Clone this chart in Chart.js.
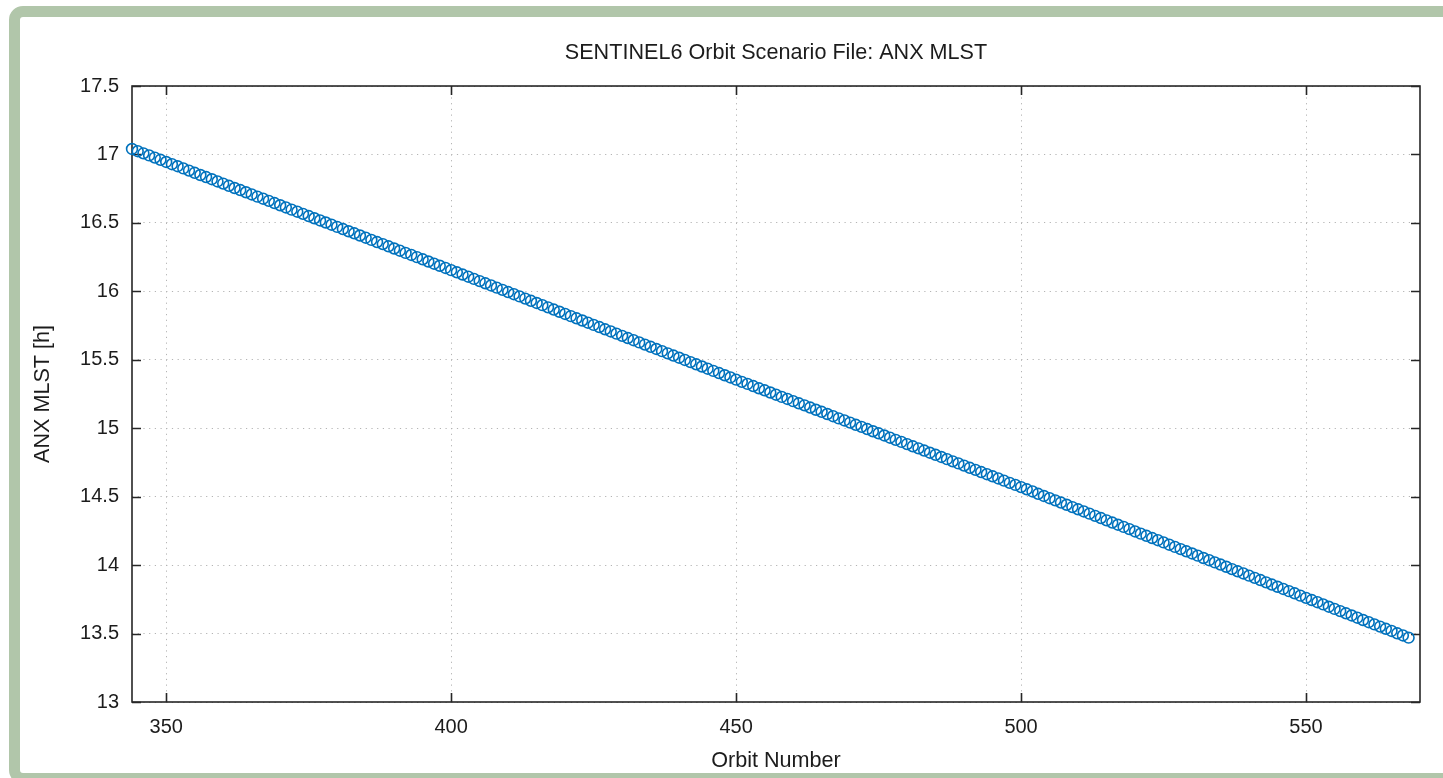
<!DOCTYPE html>
<html>
<head>
<meta charset="utf-8">
<title>SENTINEL6 Orbit Scenario File: ANX MLST</title>
<script src="https://cdn.jsdelivr.net/npm/chart.js@4.4.1/dist/chart.umd.min.js"></script>
<style>
  html, body { margin: 0; padding: 0; background: #fff; overflow: hidden; }
  #frame {
    position: absolute; left: 9px; top: 6px;
    width: 1500px; height: 756px;
    border: 11px solid #b1c6aa; border-radius: 14px;
    background: #fff;
  }
  #chart { position: absolute; left: 0; top: 0; }
</style>
</head>
<body>
<div id="frame"></div>
<canvas id="chart" width="1443" height="778"></canvas>
<script>
// ===== DATA =====
const orbits = [
  344, 345, 346, 347, 348, 349, 350, 351, 352, 353, 354, 355, 356, 357, 358, 359,
  360, 361, 362, 363, 364, 365, 366, 367, 368, 369, 370, 371, 372, 373, 374, 375,
  376, 377, 378, 379, 380, 381, 382, 383, 384, 385, 386, 387, 388, 389, 390, 391,
  392, 393, 394, 395, 396, 397, 398, 399, 400, 401, 402, 403, 404, 405, 406, 407,
  408, 409, 410, 411, 412, 413, 414, 415, 416, 417, 418, 419, 420, 421, 422, 423,
  424, 425, 426, 427, 428, 429, 430, 431, 432, 433, 434, 435, 436, 437, 438, 439,
  440, 441, 442, 443, 444, 445, 446, 447, 448, 449, 450, 451, 452, 453, 454, 455,
  456, 457, 458, 459, 460, 461, 462, 463, 464, 465, 466, 467, 468, 469, 470, 471,
  472, 473, 474, 475, 476, 477, 478, 479, 480, 481, 482, 483, 484, 485, 486, 487,
  488, 489, 490, 491, 492, 493, 494, 495, 496, 497, 498, 499, 500, 501, 502, 503,
  504, 505, 506, 507, 508, 509, 510, 511, 512, 513, 514, 515, 516, 517, 518, 519,
  520, 521, 522, 523, 524, 525, 526, 527, 528, 529, 530, 531, 532, 533, 534, 535,
  536, 537, 538, 539, 540, 541, 542, 543, 544, 545, 546, 547, 548, 549, 550, 551,
  552, 553, 554, 555, 556, 557, 558, 559, 560, 561, 562, 563, 564, 565, 566, 567,
  568
];

const anxMlst = [
  17.040, 17.024, 17.008, 16.993, 16.977, 16.961, 16.945, 16.929, 16.914, 16.898,
  16.882, 16.866, 16.850, 16.835, 16.819, 16.803, 16.787, 16.771, 16.755, 16.740,
  16.724, 16.708, 16.692, 16.677, 16.661, 16.645, 16.629, 16.613, 16.597, 16.582,
  16.566, 16.550, 16.534, 16.518, 16.503, 16.487, 16.471, 16.455, 16.439, 16.424,
  16.408, 16.392, 16.376, 16.360, 16.345, 16.329, 16.313, 16.297, 16.281, 16.266,
  16.250, 16.234, 16.218, 16.202, 16.187, 16.171, 16.155, 16.139, 16.123, 16.107,
  16.091, 16.075, 16.059, 16.043, 16.027, 16.011, 15.995, 15.979, 15.963, 15.947,
  15.931, 15.915, 15.899, 15.883, 15.867, 15.851, 15.835, 15.819, 15.803, 15.787,
  15.771, 15.755, 15.739, 15.723, 15.707, 15.691, 15.675, 15.659, 15.643, 15.627,
  15.611, 15.595, 15.579, 15.563, 15.547, 15.531, 15.515, 15.499, 15.483, 15.467,
  15.451, 15.435, 15.419, 15.403, 15.387, 15.371, 15.355, 15.339, 15.324, 15.308,
  15.292, 15.277, 15.261, 15.245, 15.229, 15.214, 15.198, 15.182, 15.167, 15.151,
  15.135, 15.120, 15.104, 15.088, 15.072, 15.057, 15.041, 15.025, 15.010, 14.994,
  14.978, 14.963, 14.947, 14.931, 14.915, 14.900, 14.884, 14.868, 14.853, 14.837,
  14.821, 14.806, 14.790, 14.774, 14.758, 14.743, 14.727, 14.711, 14.696, 14.680,
  14.664, 14.649, 14.633, 14.617, 14.601, 14.586, 14.570, 14.554, 14.538, 14.521,
  14.505, 14.489, 14.473, 14.457, 14.441, 14.424, 14.408, 14.392, 14.376, 14.360,
  14.344, 14.327, 14.311, 14.295, 14.279, 14.263, 14.246, 14.230, 14.214, 14.198,
  14.182, 14.166, 14.149, 14.133, 14.117, 14.101, 14.085, 14.069, 14.052, 14.036,
  14.020, 14.004, 13.988, 13.971, 13.955, 13.939, 13.923, 13.907, 13.891, 13.874,
  13.858, 13.842, 13.826, 13.810, 13.794, 13.777, 13.761, 13.745, 13.729, 13.713,
  13.696, 13.680, 13.664, 13.648, 13.632, 13.616, 13.599, 13.583, 13.567, 13.551,
  13.535, 13.519, 13.502, 13.486, 13.470
];

const xTickValues = [350, 400, 450, 500, 550];
const yTickValues = [13, 13.5, 14, 14.5, 15, 15.5, 16, 16.5, 17, 17.5];

const TEXT = "#1c1c1c";
const FONT = "'Liberation Sans', Arial, Helvetica, sans-serif";

// ===== AXES BOX + INWARD TICKS (matlab style) =====
const axesBox = {
  id: "axesBox",
  beforeDatasetsDraw(chart) {
    const { ctx, chartArea: a, scales } = chart;
    const len = 9;
    ctx.save();
    ctx.strokeStyle = "#262626";
    ctx.lineWidth = 1.6;
    ctx.strokeRect(a.left, a.top, a.right - a.left, a.bottom - a.top);
    ctx.beginPath();
    scales.x.ticks.forEach(t => {
      const px = Math.round(scales.x.getPixelForValue(t.value)) + 0.5;
      ctx.moveTo(px, a.bottom); ctx.lineTo(px, a.bottom - len);
      ctx.moveTo(px, a.top); ctx.lineTo(px, a.top + len);
    });
    scales.y.ticks.forEach(t => {
      const py = Math.round(scales.y.getPixelForValue(t.value)) + 0.5;
      ctx.moveTo(a.left, py); ctx.lineTo(a.left + len, py);
      ctx.moveTo(a.right, py); ctx.lineTo(a.right - len, py);
    });
    ctx.stroke();
    ctx.restore();
  }
};

// ===== CHART =====
const points = orbits.map((o, i) => ({ x: o, y: anxMlst[i] }));

new Chart(document.getElementById("chart").getContext("2d"), {
  type: "scatter",
  data: {
    datasets: [{
      label: "ANX MLST",
      data: points,
      showLine: false,
      pointStyle: "circle",
      pointRadius: 5.4,
      pointHoverRadius: 5.4,
      pointBorderWidth: 1.6,
      borderColor: "#0072BD",
      backgroundColor: "rgba(0,0,0,0)",
      clip: false
    }]
  },
  options: {
    responsive: false,
    animation: false,
    devicePixelRatio: 1,
    layout: { padding: { left: 0, right: 23, top: 0, bottom: 0 } },
    plugins: {
      legend: { display: false },
      tooltip: { enabled: false },
      title: {
        display: true,
        fullSize: false,
        text: "SENTINEL6 Orbit Scenario File: ANX MLST",
        color: TEXT,
        font: { family: FONT, size: 21.6, weight: "normal" },
        padding: { top: 40.5, bottom: 19.6 }
      }
    },
    scales: {
      x: {
        type: "linear",
        min: 344,
        max: 570,
        afterBuildTicks: s => { s.ticks = xTickValues.map(v => ({ value: v })); },
        afterFit: s => { s.height = 76; },
        ticks: {
          color: TEXT,
          font: { family: FONT, size: 20 },
          padding: 13,
          maxRotation: 0,
          callback: v => String(v)
        },
        grid: {
          drawTicks: false,
          color: "#b4b4b4",
          lineWidth: 1
        },
        border: { display: false, dash: [1.2, 4.5] },
        title: {
          display: true,
          text: "Orbit Number",
          color: TEXT,
          font: { family: FONT, size: 21.6 },
          padding: { top: 0, bottom: 4 }
        }
      },
      y: {
        type: "linear",
        min: 13,
        max: 17.5,
        afterBuildTicks: s => { s.ticks = yTickValues.map(v => ({ value: v })); },
        afterFit: s => { s.width = 132; },
        ticks: {
          color: TEXT,
          font: { family: FONT, size: 20 },
          padding: 13,
          callback: v => String(v)
        },
        grid: {
          drawTicks: false,
          color: "#b4b4b4",
          lineWidth: 1
        },
        border: { display: false, dash: [1.2, 4.5] },
        title: {
          display: true,
          text: "ANX MLST [h]",
          color: TEXT,
          font: { family: FONT, size: 21.6 },
          padding: { top: 30, bottom: 0 }
        }
      }
    }
  },
  plugins: [axesBox]
});
</script>
</body>
</html>
